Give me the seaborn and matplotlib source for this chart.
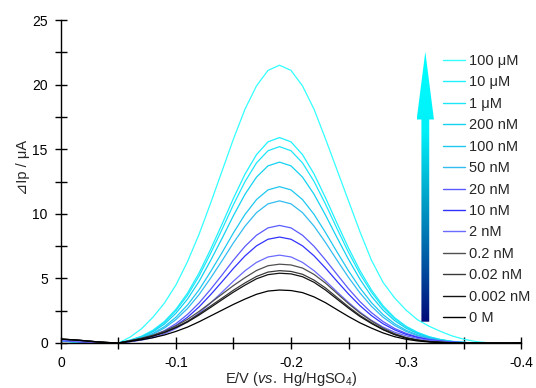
import numpy as np
import pandas as pd
import matplotlib
matplotlib.use("Agg")
import matplotlib.pyplot as plt
import seaborn as sns
from matplotlib.path import Path
from matplotlib.patches import PathPatch
from matplotlib.colors import LinearSegmentedColormap
from matplotlib.ticker import MultipleLocator, FixedLocator, FixedFormatter

# ---------------- data ----------------
potential = [0.00, -0.01, -0.02, -0.03, -0.04, -0.05, -0.06, -0.07, -0.08, -0.09,
             -0.10, -0.11, -0.12, -0.13, -0.14, -0.15, -0.16, -0.17, -0.18, -0.19,
             -0.20, -0.21, -0.22, -0.23, -0.24, -0.25, -0.26, -0.27, -0.28, -0.29,
             -0.30, -0.31, -0.32, -0.33, -0.34, -0.35, -0.36, -0.37, -0.38, -0.39, -0.40]

i_100uM = [0.15, 0.10, 0.05, 0.00, -0.05, 0.00,
           0.45, 1.1, 2.0, 3.1, 4.5, 6.3, 8.4, 10.8, 13.3, 15.8,
           18.1, 19.9, 21.1, 21.5, 21.1, 19.9, 18.1, 15.8, 13.4, 11.0,
           8.6, 6.4, 4.7, 3.5, 2.55, 1.8, 1.3, 0.9, 0.55, 0.3,
           0.12, 0.03, 0.00, 0.00, 0.02]
i_10uM = [0.15, 0.10, 0.05, 0.00, -0.05, 0.00,
          0.22, 0.52, 0.99, 1.67, 2.62, 3.86, 5.41, 7.23, 9.19, 11.21,
          13.07, 14.58, 15.57, 15.9, 15.57, 14.58, 13.09, 11.24, 9.27, 7.35,
          5.60, 4.10, 2.89, 1.97, 1.30, 0.83, 0.49, 0.27, 0.13, 0.05,
          0.00, 0.00, 0.00, 0.00, 0.02]
i_1uM = [0.15, 0.10, 0.05, 0.00, -0.05, 0.00,
         0.21, 0.50, 0.94, 1.60, 2.51, 3.69, 5.17, 6.92, 8.79, 10.72,
         12.49, 13.94, 14.88, 15.2, 14.88, 13.94, 12.51, 10.75, 8.86, 7.02,
         5.35, 3.92, 2.77, 1.88, 1.25, 0.79, 0.47, 0.26, 0.12, 0.05,
         0.00, 0.00, 0.00, 0.00, 0.02]
i_200nM = [0.15, 0.10, 0.05, 0.00, -0.05, 0.00,
           0.20, 0.46, 0.87, 1.47, 2.31, 3.40, 4.76, 6.37, 8.09, 9.87,
           11.51, 12.84, 13.71, 14.0, 13.71, 12.84, 11.52, 9.90, 8.16, 6.47,
           4.93, 3.61, 2.55, 1.74, 1.15, 0.73, 0.43, 0.24, 0.11, 0.04,
           0.00, 0.00, 0.00, 0.00, 0.02]
i_100nM = [0.15, 0.10, 0.05, 0.00, -0.05, 0.00,
           0.17, 0.40, 0.75, 1.27, 2.00, 2.94, 4.11, 5.51, 6.99, 8.53,
           9.95, 11.10, 11.85, 12.1, 11.85, 11.10, 9.96, 8.55, 7.05, 5.59,
           4.26, 3.12, 2.20, 1.50, 0.99, 0.63, 0.38, 0.21, 0.10, 0.04,
           0.00, 0.00, 0.00, 0.00, 0.02]
i_50nM = [0.15, 0.10, 0.05, 0.00, -0.05, 0.00,
          0.15, 0.36, 0.68, 1.16, 1.82, 2.67, 3.74, 5.01, 6.36, 7.76,
          9.04, 10.09, 10.77, 11.0, 10.77, 10.09, 9.05, 7.78, 6.41, 5.08,
          3.87, 2.84, 2.00, 1.36, 0.90, 0.57, 0.34, 0.19, 0.09, 0.03,
          0.00, 0.00, 0.00, 0.00, 0.02]
i_20nM = [0.20, 0.15, 0.08, 0.02, -0.02, 0.00,
          0.13, 0.30, 0.56, 0.96, 1.50, 2.21, 3.09, 4.14, 5.26, 6.42,
          7.48, 8.34, 8.91, 9.1, 8.91, 8.34, 7.49, 6.43, 5.31, 4.20,
          3.20, 2.35, 1.66, 1.13, 0.75, 0.47, 0.28, 0.15, 0.07, 0.03,
          0.00, 0.00, 0.00, 0.00, 0.02]
i_10nM = [0.20, 0.15, 0.08, 0.02, -0.02, 0.00,
          0.11, 0.27, 0.51, 0.86, 1.35, 1.99, 2.79, 3.73, 4.74, 5.78,
          6.74, 7.52, 8.03, 8.2, 8.03, 7.52, 6.75, 5.80, 4.78, 3.79,
          2.89, 2.12, 1.49, 1.02, 0.67, 0.43, 0.25, 0.14, 0.07, 0.02,
          0.00, 0.00, 0.00, 0.00, 0.02]
i_2nM = [0.20, 0.15, 0.08, 0.02, -0.02, 0.00,
         0.10, 0.22, 0.42, 0.71, 1.12, 1.65, 2.31, 3.09, 3.93, 4.79,
         5.59, 6.24, 6.66, 6.8, 6.66, 6.24, 5.60, 4.81, 3.96, 3.14,
         2.39, 1.75, 1.24, 0.84, 0.56, 0.35, 0.21, 0.12, 0.05, 0.02,
         0.00, 0.00, 0.00, 0.00, 0.02]
i_02nM = [0.30, 0.25, 0.18, 0.10, 0.04, 0.00,
          0.18, 0.37, 0.61, 0.92, 1.34, 1.83, 2.44, 3.11, 3.78, 4.45,
          5.06, 5.61, 5.98, 6.1, 6.04, 5.80, 5.31, 4.64, 3.84, 3.05,
          2.32, 1.71, 1.16, 0.73, 0.43, 0.24, 0.12, 0.06, 0.02, 0.00,
          0.00, 0.00, 0.00, 0.00, 0.02]
i_002nM = [0.30, 0.25, 0.18, 0.10, 0.04, 0.00,
           0.17, 0.34, 0.56, 0.84, 1.23, 1.68, 2.24, 2.86, 3.47, 4.09,
           4.65, 5.15, 5.49, 5.6, 5.54, 5.32, 4.87, 4.26, 3.53, 2.80,
           2.13, 1.57, 1.06, 0.67, 0.39, 0.22, 0.11, 0.06, 0.02, 0.00,
           0.00, 0.00, 0.00, 0.00, 0.02]
i_0002nM = [0.30, 0.25, 0.18, 0.10, 0.04, 0.00,
            0.16, 0.32, 0.54, 0.81, 1.19, 1.62, 2.16, 2.75, 3.35, 3.94,
            4.48, 4.97, 5.29, 5.4, 5.35, 5.13, 4.70, 4.10, 3.40, 2.70,
            2.05, 1.51, 1.03, 0.65, 0.38, 0.22, 0.11, 0.05, 0.02, 0.00,
            0.00, 0.00, 0.00, 0.00, 0.02]
i_0M = [0.30, 0.25, 0.18, 0.10, 0.04, 0.00,
        0.12, 0.25, 0.41, 0.62, 0.90, 1.23, 1.64, 2.09, 2.54, 2.99,
        3.40, 3.77, 4.02, 4.1, 4.06, 3.90, 3.57, 3.12, 2.58, 2.05,
        1.56, 1.15, 0.78, 0.49, 0.29, 0.16, 0.08, 0.04, 0.01, 0.00,
        0.00, 0.00, 0.00, 0.00, 0.02]

labels = ["100 \u03bcM", "10 \u03bcM", "1 \u03bcM", "200 nM", "100 nM", "50 nM",
          "20 nM", "10 nM", "2 nM", "0.2 nM", "0.02 nM", "0.002 nM", "0 M"]
series = [i_100uM, i_10uM, i_1uM, i_200nM, i_100nM, i_50nM,
          i_20nM, i_10nM, i_2nM, i_02nM, i_002nM, i_0002nM, i_0M]
colors = ["#33ffff", "#1ef2ff", "#1ee6fa", "#14d2f2", "#1ec8f0", "#32bcf0",
          "#5a5aff", "#3232ff", "#6a6aff", "#505050", "#3a3a3a", "#141414", "#000000"]

xtick_vals = [0.0, -0.1, -0.2, -0.3, -0.4]
xtick_labels = ["0", "-0.1", "-0.2", "-0.3", "-0.4"]
ytick_vals = [0, 5, 10, 15, 20, 25]

frames = [pd.DataFrame({"E": potential, "I": vals, "conc": lab})
          for lab, vals in zip(labels, series)]
df = pd.concat(frames, ignore_index=True)

# ---------------- style ----------------
sns.set_style("ticks")
plt.rcParams["font.family"] = ["Liberation Sans", "DejaVu Sans"]
plt.rcParams["mathtext.fontset"] = "custom"
plt.rcParams["mathtext.rm"] = "Liberation Sans"
plt.rcParams["mathtext.it"] = "Liberation Sans:italic"

fig = plt.figure(figsize=(5.36, 3.88), dpi=100)
ax = fig.add_axes([61 / 536, 45 / 388, 460 / 536, 323 / 388])

sns.lineplot(data=df, x="E", y="I", hue="conc", hue_order=labels,
             palette=dict(zip(labels, colors)), estimator=None, sort=False,
             linewidth=0.9, ax=ax, legend=True)

# gradient arrow (annotation)
cx, sw, hw = -0.3168, 0.0034, 0.0075
yb, yh, yt = 1.65, 17.3, 22.55
verts = [(cx - sw, yb), (cx + sw, yb), (cx + sw, yh), (cx + hw, yh), (cx, yt),
         (cx - hw, yh), (cx - sw, yh), (cx - sw, yb)]
codes = [Path.MOVETO] + [Path.LINETO] * 6 + [Path.CLOSEPOLY]
arrow = PathPatch(Path(verts, codes), facecolor="none", edgecolor="none")
ax.add_patch(arrow)
cmap = LinearSegmentedColormap.from_list(
    "arr", [(0.0, "#000a78"), (0.2, "#0050a0"), (0.45, "#00a0c8"),
            (0.7, "#00f0f8"), (1.0, "#00ffff")])
grad = np.linspace(0, 1, 256).reshape(-1, 1)
im = ax.imshow(grad, extent=(cx - hw, cx + hw, yb, yt), origin="lower",
               cmap=cmap, aspect="auto", zorder=3)
im.set_clip_path(arrow)

ax.set_xlim(0, -0.4)
ax.set_ylim(0, 25)

ax.xaxis.set_major_locator(FixedLocator(xtick_vals))
ax.xaxis.set_major_formatter(FixedFormatter(xtick_labels))
ax.xaxis.set_minor_locator(MultipleLocator(0.05))
ax.yaxis.set_major_locator(FixedLocator(ytick_vals))
ax.yaxis.set_minor_locator(MultipleLocator(2.5))
ax.tick_params(axis="both", which="both", direction="inout", length=9,
               width=1, colors="black", labelsize=10)
ax.tick_params(axis="x", pad=5)
ax.tick_params(axis="y", pad=5)

for s in ["top", "right"]:
    ax.spines[s].set_visible(False)
for s in ["left", "bottom"]:
    ax.spines[s].set_linewidth(1)
    ax.spines[s].set_color("black")

ax.set_xlabel(r"E/V ($\it{vs.}$ Hg/HgSO$_4$)", fontsize=10.5, labelpad=0)
ax.set_ylabel("")
ax.text(-0.082, 0.545, "\u22bfIp / \u03bcA", rotation=90, ha="center", va="center",
        transform=ax.transAxes, fontsize=10.5,
        family=["Liberation Sans", "DejaVu Sans"])

leg = ax.legend(loc="upper left", bbox_to_anchor=(443 / 536, 1 - 54 / 388),
                bbox_transform=fig.transFigure, frameon=False, fontsize=10.5,
                handlelength=1.5, handletextpad=0.3, labelspacing=0.51,
                borderpad=0, borderaxespad=0, title=None)
for h in leg.get_lines():
    h.set_linewidth(1.0)

fig.savefig("out.png", dpi=100)
